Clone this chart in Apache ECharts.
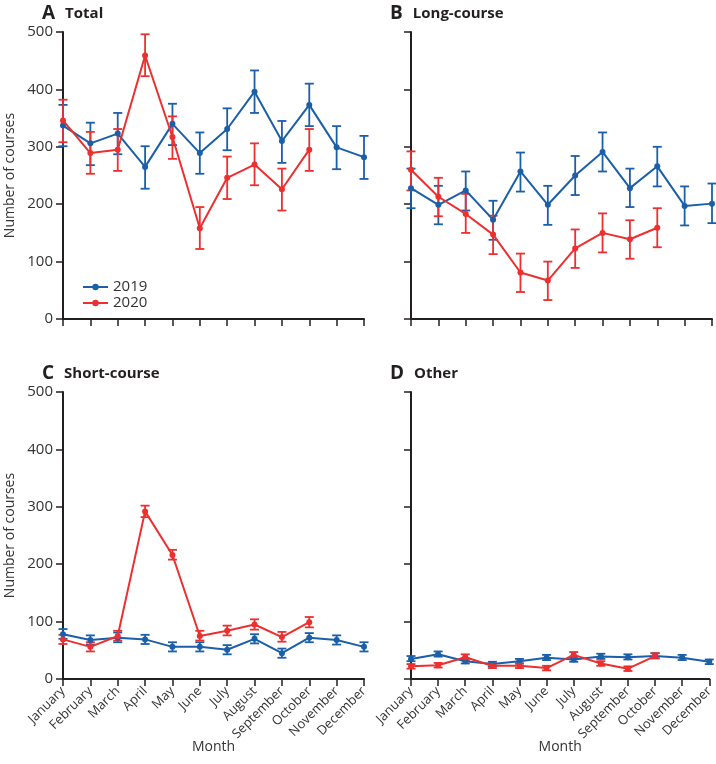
<!DOCTYPE html>
<html>
<head>
<meta charset="UTF-8">
<title>Courses by month</title>
<script src="https://cdn.jsdelivr.net/npm/echarts@6/dist/echarts.min.js"></script>
<style>
	html, body { margin: 0; padding: 0; background: #fff; }
	#main { width: 716px; height: 764px; }
</style>
</head>
<body>
<div id="main"></div>
<script>
	var months = ['January', 'February', 'March', 'April', 'May', 'June', 'July', 'August', 'September', 'October', 'November', 'December'];
	var yTicks = [0, 100, 200, 300, 400, 500];

	// A Total
	var total2019 = [337, 306, 323, 265, 340, 289, 331, 396, 310, 373, 299, 282];
	var totalLow2019 = [301, 268, 287, 227, 303, 253, 294, 359, 272, 336, 261, 244];
	var totalHigh2019 = [373, 342, 359, 301, 375, 325, 367, 433, 345, 410, 336, 319];
	var total2020 = [346, 289, 295, 459, 317, 158, 246, 269, 226, 295];
	var totalLow2020 = [308, 253, 258, 423, 279, 122, 209, 233, 189, 258];
	var totalHigh2020 = [382, 326, 331, 496, 353, 195, 283, 306, 262, 331];

	// B Long-course
	var long2019 = [228, 199, 224, 173, 257, 199, 250, 291, 228, 266, 197, 201];
	var longLow2019 = [193, 165, 189, 138, 222, 164, 216, 257, 195, 231, 163, 167];
	var longHigh2019 = [262, 232, 257, 206, 290, 232, 284, 325, 262, 300, 231, 236];
	var long2020 = [260, 213, 183, 147, 81, 67, 123, 150, 139, 159];
	var longLow2020 = [224, 179, 150, 113, 47, 33, 89, 116, 105, 125];
	var longHigh2020 = [292, 246, 218, 180, 114, 100, 156, 184, 172, 193];

	// C Short-course
	var short2019 = [78, 68, 72, 69, 56, 56, 51, 70, 45, 72, 68, 56];
	var shortLow2019 = [70, 60, 64, 61, 48, 48, 43, 62, 37, 64, 60, 48];
	var shortHigh2019 = [87, 76, 81, 77, 64, 64, 59, 78, 53, 80, 76, 64];
	var short2020 = [69, 56, 75, 292, 216, 75, 84, 95, 73, 99];
	var shortLow2020 = [61, 48, 67, 282, 208, 67, 76, 86, 65, 90];
	var shortHigh2020 = [77, 64, 84, 302, 225, 84, 93, 104, 82, 108];

	// D Other
	var other2019 = [35, 43, 31, 26, 31, 37, 34, 39, 38, 40, 37, 30];
	var otherLow2019 = [31, 39, 27, 22, 27, 33, 30, 35, 34, 36, 33, 26];
	var otherHigh2019 = [40, 48, 36, 30, 35, 42, 39, 44, 43, 45, 42, 34];
	var other2020 = [22, 24, 38, 23, 23, 19, 42, 27, 18, 40];
	var otherLow2020 = [18, 20, 33, 19, 19, 15, 37, 23, 14, 36];
	var otherHigh2020 = [26, 28, 43, 27, 27, 23, 47, 31, 22, 45];

	var BLUE = '#1b5fa8';
	var RED = '#ec2f2f';
	var AXIS = '#231f20';
	var FONT = 'Open Sans';

	var panels = [
		{ letter: 'A', name: 'Total', left: 63, top: 32, m19: total2019, l19: totalLow2019, h19: totalHigh2019, m20: total2020, l20: totalLow2020, h20: totalHigh2020 },
		{ letter: 'B', name: 'Long-course', left: 411, top: 32, m19: long2019, l19: longLow2019, h19: longHigh2019, m20: long2020, l20: longLow2020, h20: longHigh2020 },
		{ letter: 'C', name: 'Short-course', left: 63, top: 392, m19: short2019, l19: shortLow2019, h19: shortHigh2019, m20: short2020, l20: shortLow2020, h20: shortHigh2020 },
		{ letter: 'D', name: 'Other', left: 411, top: 392, m19: other2019, l19: otherLow2019, h19: otherHigh2019, m20: other2020, l20: otherLow2020, h20: otherHigh2020 }
	];

	function errRender(params, api) {
		var x = api.value(0);
		var lo = api.coord([x, api.value(1)]);
		var hi = api.coord([x, api.value(2)]);
		var w = 4.5;
		var style = { stroke: api.visual('color'), lineWidth: 1.8, fill: null };
		return {
			type: 'group',
			children: [
				{ type: 'line', shape: { x1: hi[0], y1: hi[1], x2: lo[0], y2: lo[1] }, style: style },
				{ type: 'line', shape: { x1: hi[0] - w, y1: hi[1], x2: hi[0] + w, y2: hi[1] }, style: style },
				{ type: 'line', shape: { x1: lo[0] - w, y1: lo[1], x2: lo[0] + w, y2: lo[1] }, style: style }
			]
		};
	}

	function errData(lo, hi) {
		var out = [];
		for (var i = 0; i < lo.length; i++) {
			out.push([i, lo[i], hi[i]]);
		}
		return out;
	}

	var grids = [], xAxes = [], yAxes = [], series = [], titles = [];

	for (var i = 0; i < panels.length; i++) {
		var p = panels[i];
		var bottomRow = i >= 2;
		var leftCol = (i % 2) === 0;
		grids.push({ left: p.left, top: p.top, width: 301, height: 287 });
		titles.push({
			left: p.left - 26,
			top: p.top - 33,
			text: '{l|' + p.letter + '}  {n|' + p.name + '}',
			textStyle: {
				rich: {
					l: { fontFamily: FONT, fontSize: 19, fontWeight: 'bold', color: AXIS },
					n: { fontFamily: FONT, fontSize: 15, fontWeight: 'bold', color: AXIS }
				}
			}
		});
		xAxes.push({
			gridIndex: i,
			type: 'category',
			data: months,
			boundaryGap: false,
			axisLine: { lineStyle: { color: AXIS, width: 2 } },
			axisTick: { show: true, length: 7, interval: 0, lineStyle: { color: AXIS, width: 1.5 } },
			axisLabel: {
				show: bottomRow,
				interval: 0,
				rotate: 45,
				fontFamily: FONT,
				fontSize: 13,
				color: '#333',
				margin: 10
			},
			name: bottomRow ? 'Month' : '',
			nameLocation: 'middle',
			nameGap: 61,
			nameMoveOverlap: false,
			nameTextStyle: { fontFamily: FONT, fontSize: 14, color: '#333' }
		});
		yAxes.push({
			gridIndex: i,
			type: 'value',
			min: yTicks[0],
			max: yTicks[yTicks.length - 1],
			interval: 100,
			splitLine: { show: false },
			axisLine: { show: true, lineStyle: { color: AXIS, width: 2 } },
			axisTick: { show: true, length: 7, lineStyle: { color: AXIS, width: 1.5 } },
			axisLabel: {
				show: leftCol,
				fontFamily: FONT,
				fontSize: 15,
				color: '#333',
				margin: 10
			},
			name: leftCol ? 'Number of courses' : '',
			nameLocation: 'middle',
			nameGap: 46,
			nameMoveOverlap: false,
			nameTextStyle: { fontFamily: FONT, fontSize: 14, color: '#333' }
		});

		// line series first so the legend takes its line+dot icon
		series.push({
			name: '2019', type: 'line', xAxisIndex: i, yAxisIndex: i,
			data: p.m19, symbol: 'circle', symbolSize: 6,
			lineStyle: { color: BLUE, width: 2 }, itemStyle: { color: BLUE }, z: 4
		});
		series.push({
			name: '2020', type: 'line', xAxisIndex: i, yAxisIndex: i,
			data: p.m20, symbol: 'circle', symbolSize: 6,
			lineStyle: { color: RED, width: 2 }, itemStyle: { color: RED }, z: 5
		});
		series.push({
			name: '2019', type: 'custom', xAxisIndex: i, yAxisIndex: i,
			renderItem: errRender, itemStyle: { color: BLUE }, data: errData(p.l19, p.h19), z: 2
		});
		series.push({
			name: '2020', type: 'custom', xAxisIndex: i, yAxisIndex: i,
			renderItem: errRender, itemStyle: { color: RED }, data: errData(p.l20, p.h20), z: 3
		});
	}

	var myChart = echarts.init(document.getElementById('main'), null, { renderer: 'canvas' });
	myChart.setOption({
		animation: false,
		backgroundColor: '#fff',
		title: titles,
		legend: {
			orient: 'vertical',
			left: 77,
			top: 274,
			itemWidth: 25,
			itemHeight: 8,
			itemGap: 0,
			data: ['2019', '2020'],
			textStyle: { fontFamily: FONT, fontSize: 15, color: '#333', lineHeight: 16 }
		},
		grid: grids,
		xAxis: xAxes,
		yAxis: yAxes,
		series: series
	});
</script>
</body>
</html>
